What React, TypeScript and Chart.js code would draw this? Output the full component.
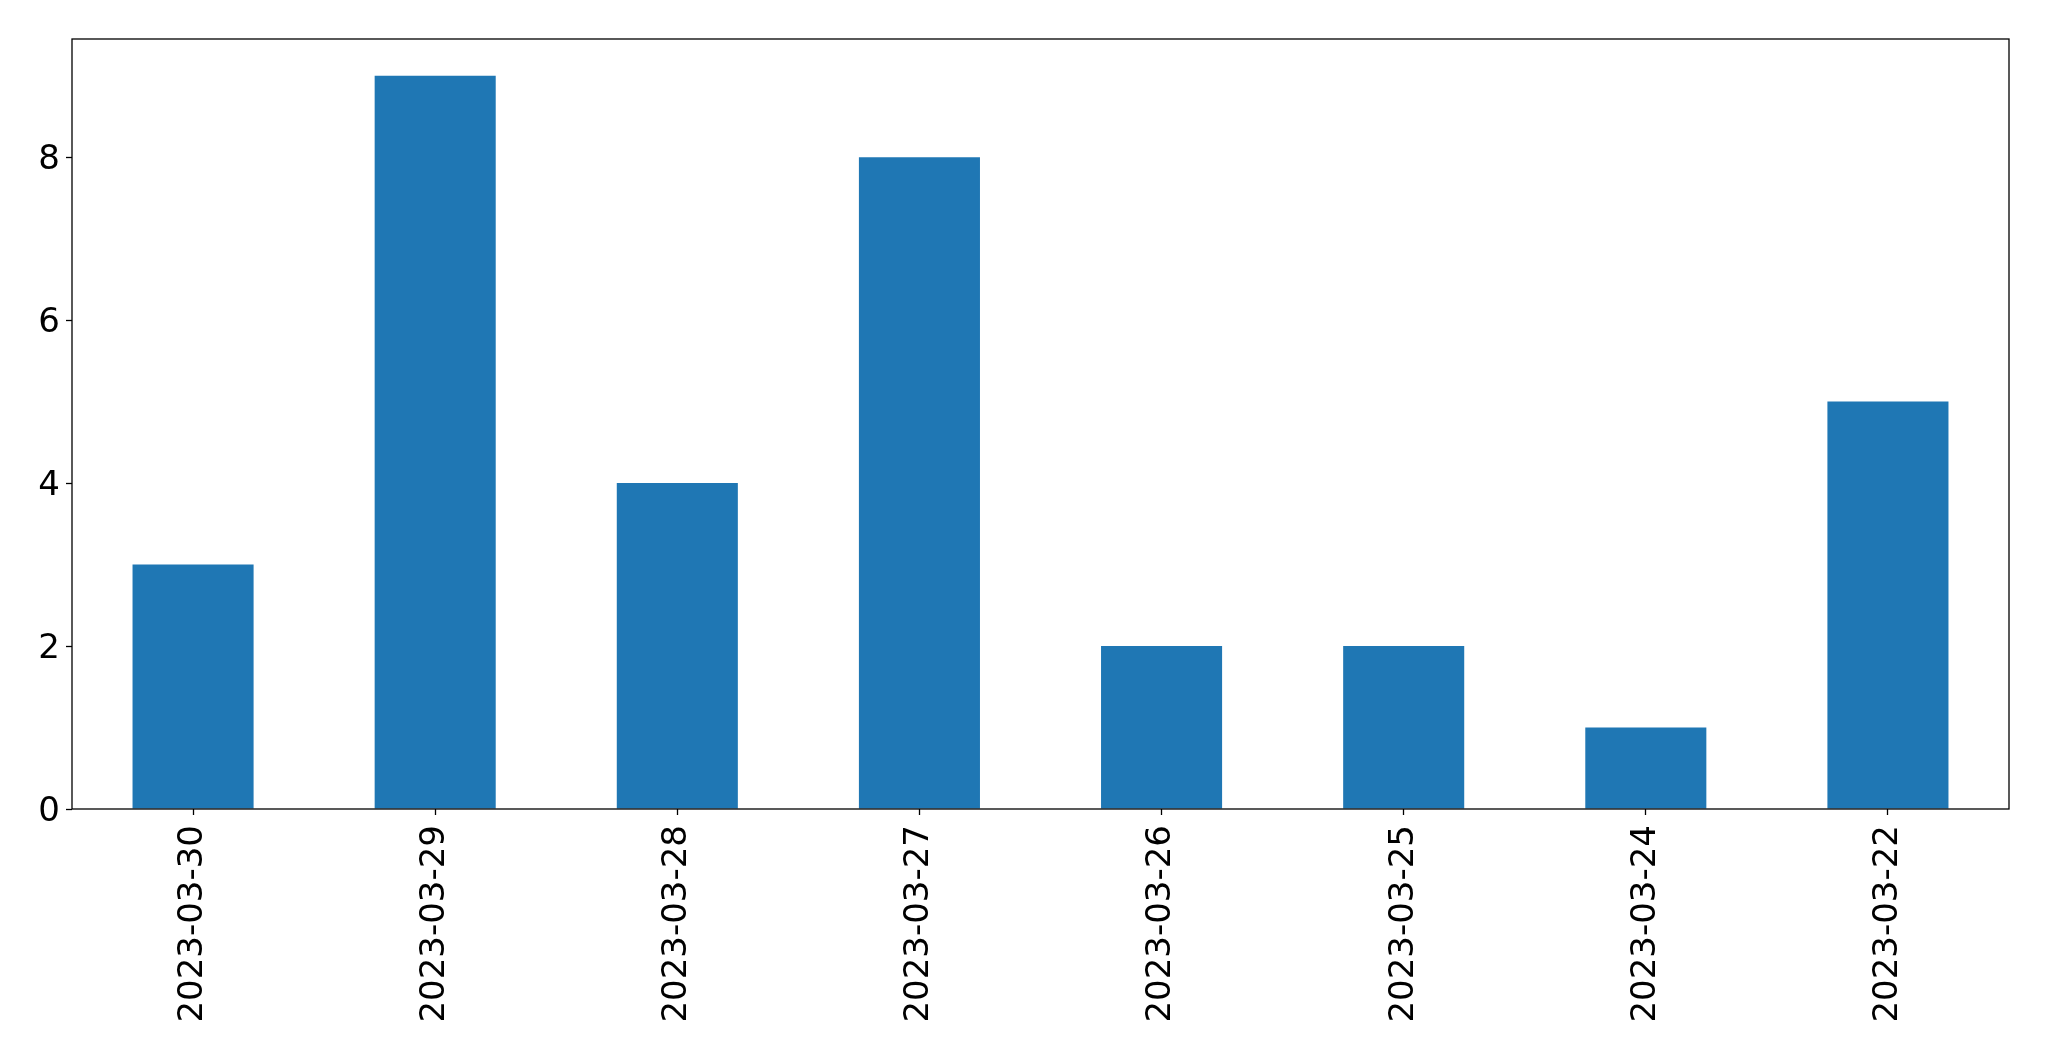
import React, { useEffect, useRef } from "react";
import { Chart, registerables } from "chart.js";

Chart.register(...registerables);

const categories = [
  "2023-03-30",
  "2023-03-29",
  "2023-03-28",
  "2023-03-27",
  "2023-03-26",
  "2023-03-25",
  "2023-03-24",
  "2023-03-22",
];
const counts = [3, 9, 4, 8, 2, 2, 1, 5];
const yTicks = [0, 2, 4, 6, 8];
const yMax = 9.45;

const W = 2049;
const H = 1061;
const FONT = "'DejaVu Sans', sans-serif";

const framePlugin = {
  id: "frame",
  afterDraw(chart: any) {
    const { ctx, chartArea } = chart;
    ctx.save();
    ctx.strokeStyle = "#000";
    ctx.lineWidth = 1.3;
    ctx.strokeRect(chartArea.left, chartArea.top, chartArea.right - chartArea.left, chartArea.bottom - chartArea.top);
    ctx.restore();
  },
};

export default function App() {
  const ref = useRef<HTMLCanvasElement | null>(null);

  useEffect(() => {
    document.body.style.margin = "0";
    const canvas = ref.current;
    if (!canvas) return;
    const chart = new Chart(canvas, {
      type: "bar",
      data: {
        labels: categories,
        datasets: [
          {
            data: counts,
            backgroundColor: "#1f77b4",
            borderWidth: 0,
            categoryPercentage: 1,
            barPercentage: 0.5,
          },
        ],
      },
      options: {
        responsive: false,
        animation: false,
        devicePixelRatio: 1,
        layout: { padding: { left: 0, right: 40, top: 39, bottom: 0 } },
        plugins: { legend: { display: false }, tooltip: { enabled: false } },
        scales: {
          x: {
            offset: true,
            grid: {
              display: true,
              drawOnChartArea: false,
              drawTicks: true,
              tickLength: 6,
              tickColor: "#000",
              tickWidth: 1.3,
              offset: false,
            },
            border: { display: false },
            ticks: {
              color: "#000",
              font: { family: FONT, size: 34 },
              minRotation: 90,
              maxRotation: 90,
              padding: 10,
              autoSkip: false,
            },
            afterFit: (scale: any) => {
              scale.height = 252;
            },
          },
          y: {
            min: 0,
            max: yMax,
            grid: {
              display: true,
              drawOnChartArea: false,
              drawTicks: true,
              tickLength: 6,
              tickColor: "#000",
              tickWidth: 1.3,
            },
            border: { display: false },
            ticks: {
              color: "#000",
              font: { family: FONT, size: 34 },
              padding: 6,
              labelOffset: 3,
            },
            afterBuildTicks: (scale: any) => {
              scale.ticks = yTicks.map((v) => ({ value: v }));
            },
            afterFit: (scale: any) => {
              scale.width = 72;
            },
          },
        },
      },
      plugins: [framePlugin],
    });
    return () => chart.destroy();
  }, []);

  return (
    <div style={{ position: "absolute", left: 0, top: 0, width: W, height: H, background: "#fff" }}>
      <canvas ref={ref} width={W} height={H} style={{ width: W, height: H, display: "block" }} />
    </div>
  );
}
